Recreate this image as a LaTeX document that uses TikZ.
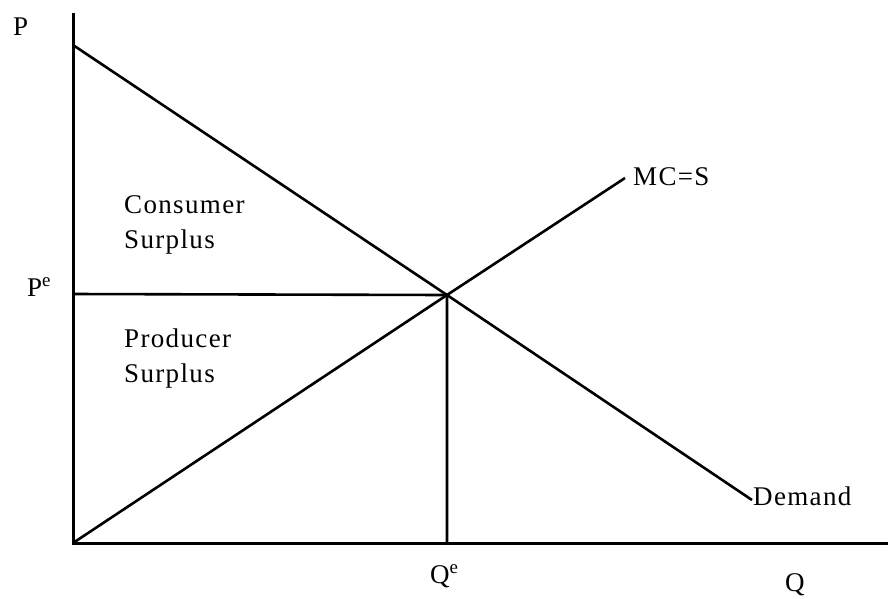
\documentclass[tikz,border=0pt]{standalone}
\usepackage{fontspec}
\setmainfont{Liberation Serif}[LetterSpace=5]
\tikzset{
  curve/.style={line width=2.6pt},
  axis/.style={line width=3pt},
  lbl/.style={font=\fontsize{27}{35}\selectfont, inner sep=0pt},
}
\begin{document}
\begin{tikzpicture}[x=1pt, y=-1pt]
    \useasboundingbox (0,0) rectangle (888,598);
    % axes
    \coordinate (O) at (73,543);
    \coordinate (Ptop) at (73,13);
    \coordinate (Qend) at (888,543);
    \draw[axis] (Ptop) -- (O) -- (Qend);
    \node[lbl, anchor=base west] (plbl) at (13,35) {P};
    \node[lbl, anchor=base west] (qlbl) at (785,591) {Q};

    % demand and supply
    \coordinate (D0) at (73,45);
    \coordinate (E) at (447,295);
    \node[lbl, anchor=base west] (dlbl) at (753,505) {Demand};
    \node[lbl, anchor=base west] (slbl) at (633,185) {MC=S};
    \draw[curve] (D0) -- (E) -- ([xshift=-1pt,yshift=5pt]dlbl.base west);
    \draw[curve] (O) -- (E) -- ([xshift=-8pt,yshift=7pt]slbl.base west);

    % equilibrium
    \coordinate (Pe) at (73,294);
    \coordinate (Qe) at (447,543);
    \draw[curve] (Pe) -- (E) -- (Qe);
    \node[lbl, anchor=base west] (pelbl) at (27,296) {P\textsuperscript{e}};
    \node[lbl, anchor=base west] (qelbl) at (430,583) {Q\textsuperscript{e}};

    % surplus areas
    \node[lbl, anchor=base west, align=left] (cs) at (124,248) {Consumer\\Surplus};
    \node[lbl, anchor=base west, align=left] (ps) at (124,382) {Producer\\Surplus};
\end{tikzpicture}
\end{document}
